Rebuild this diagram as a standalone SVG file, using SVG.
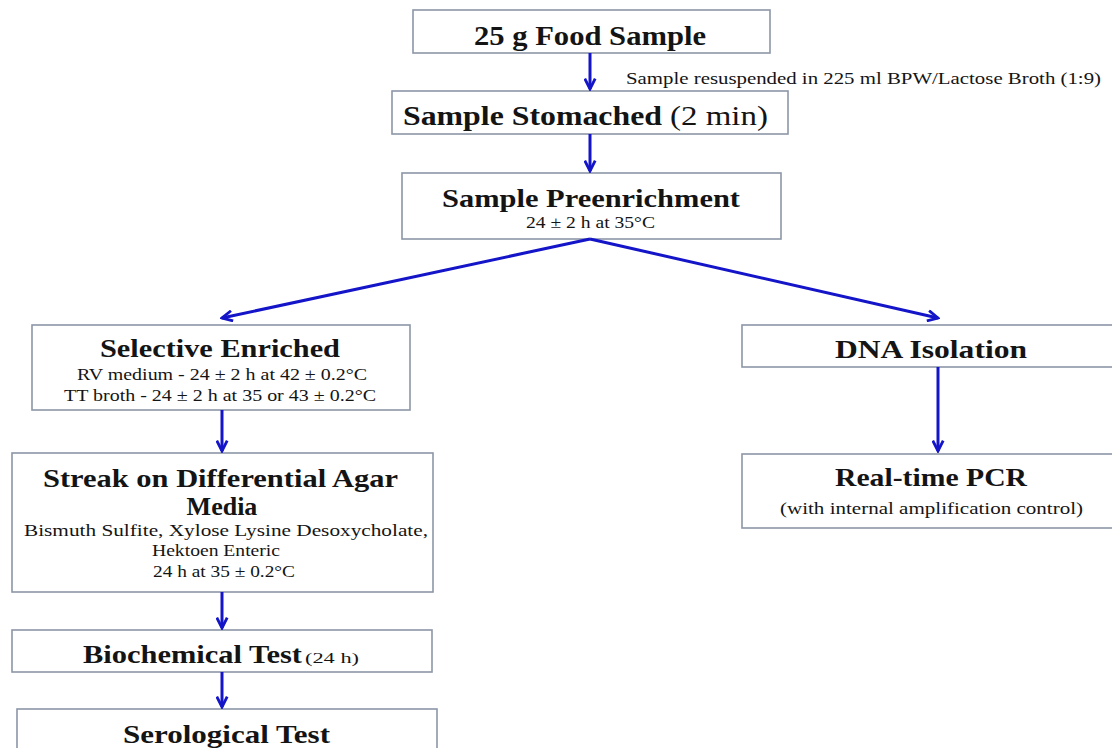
<svg xmlns="http://www.w3.org/2000/svg" width="1112" height="748" viewBox="0 0 1112 748">
<defs>
<style>
.box{fill:#fff;stroke:#8c96a8;stroke-width:1.6}
.t{font-family:"Liberation Serif","Times New Roman",serif;fill:#141414}
.b{font-weight:bold}
.c{text-anchor:middle}
.con line{stroke:#1414c8;stroke-width:3;marker-end:url(#ah)}
</style>
<marker id="ah" markerUnits="userSpaceOnUse" viewBox="0 0 12 12" markerWidth="13" markerHeight="13" refX="10.5" refY="6" orient="auto">
<path d="M1,1.2 L10.5,6 L1,10.8" fill="none" stroke="#1414c8" stroke-width="2.6" stroke-linejoin="miter"/>
</marker>
</defs>
<rect width="1112" height="748" fill="#fff"/>

<g id="food">
<rect class="box" x="413" y="10" width="357" height="43"/>
<text class="t b" x="474" y="45" font-size="28" textLength="232" lengthAdjust="spacingAndGlyphs">25 g Food Sample</text>
</g>
<g id="note">
<text class="t" x="626" y="84" font-size="16" textLength="475" lengthAdjust="spacingAndGlyphs">Sample resuspended in 225 ml BPW/Lactose Broth (1:9)</text>
</g>
<g id="stomached">
<rect class="box" x="392" y="91" width="396" height="43"/>
<text class="t b" x="403" y="125" font-size="27" textLength="259" lengthAdjust="spacingAndGlyphs">Sample Stomached</text>
<text class="t" x="670" y="125" font-size="27" textLength="98" lengthAdjust="spacingAndGlyphs">(2 min)</text>
</g>
<g id="preenrich">
<rect class="box" x="402" y="173" width="379" height="66"/>
<text class="t b" x="442" y="207" font-size="25" textLength="298" lengthAdjust="spacingAndGlyphs">Sample Preenrichment</text>
<text class="t" x="526" y="228" font-size="16" textLength="129" lengthAdjust="spacingAndGlyphs">24 ± 2 h at 35°C</text>
</g>
<g id="selective">
<rect class="box" x="32" y="325" width="378" height="85"/>
<text class="t b" x="100" y="357" font-size="25" textLength="240" lengthAdjust="spacingAndGlyphs">Selective Enriched</text>
<text class="t" x="77" y="380" font-size="16" textLength="290" lengthAdjust="spacingAndGlyphs">RV medium - 24 ± 2 h at 42 ± 0.2°C</text>
<text class="t" x="64" y="401" font-size="16" textLength="312" lengthAdjust="spacingAndGlyphs">TT broth - 24 ± 2 h at 35 or 43 ± 0.2°C</text>
</g>
<g id="streak">
<rect class="box" x="12" y="453" width="421" height="139"/>
<text class="t b" x="43" y="487" font-size="26" textLength="355" lengthAdjust="spacingAndGlyphs">Streak on Differential Agar</text>
<text class="t b c" x="222" y="515" font-size="26">Media</text>
<text class="t" x="24" y="536" font-size="16" textLength="404" lengthAdjust="spacingAndGlyphs">Bismuth Sulfite, Xylose Lysine Desoxycholate,</text>
<text class="t" x="152" y="556" font-size="16" textLength="128" lengthAdjust="spacingAndGlyphs">Hektoen Enteric</text>
<text class="t" x="153" y="577" font-size="16" textLength="142" lengthAdjust="spacingAndGlyphs">24 h at 35 ± 0.2°C</text>
</g>
<g id="biochem">
<rect class="box" x="12" y="630" width="420" height="42"/>
<text class="t b" x="83" y="663" font-size="26" textLength="219" lengthAdjust="spacingAndGlyphs">Biochemical Test</text>
<text class="t" x="305" y="663" font-size="14" textLength="54" lengthAdjust="spacingAndGlyphs">(24 h)</text>
</g>
<g id="serological">
<rect class="box" x="17" y="709" width="420" height="50"/>
<text class="t b" x="123" y="743" font-size="26" textLength="207" lengthAdjust="spacingAndGlyphs">Serological Test</text>
</g>
<g id="dna">
<rect class="box" x="742" y="325" width="380" height="42"/>
<text class="t b" x="835" y="358" font-size="26" textLength="192" lengthAdjust="spacingAndGlyphs">DNA Isolation</text>
</g>
<g id="pcr">
<rect class="box" x="742" y="454" width="380" height="74"/>
<text class="t b" x="835" y="486" font-size="26" textLength="192" lengthAdjust="spacingAndGlyphs">Real-time PCR</text>
<text class="t" x="780" y="514" font-size="16" textLength="303" lengthAdjust="spacingAndGlyphs">(with internal amplification control)</text>
</g>

<g id="connectors" class="con">
<line x1="590" y1="53" x2="590" y2="89"/>
<line x1="590" y1="134" x2="590" y2="171"/>
<line x1="590" y1="239" x2="222" y2="318"/>
<line x1="590" y1="239" x2="938" y2="318"/>
<line x1="222" y1="410" x2="222" y2="451"/>
<line x1="222" y1="592" x2="222" y2="628"/>
<line x1="222" y1="672" x2="222" y2="707"/>
<line x1="938" y1="367" x2="938" y2="451"/>
</g>
</svg>
